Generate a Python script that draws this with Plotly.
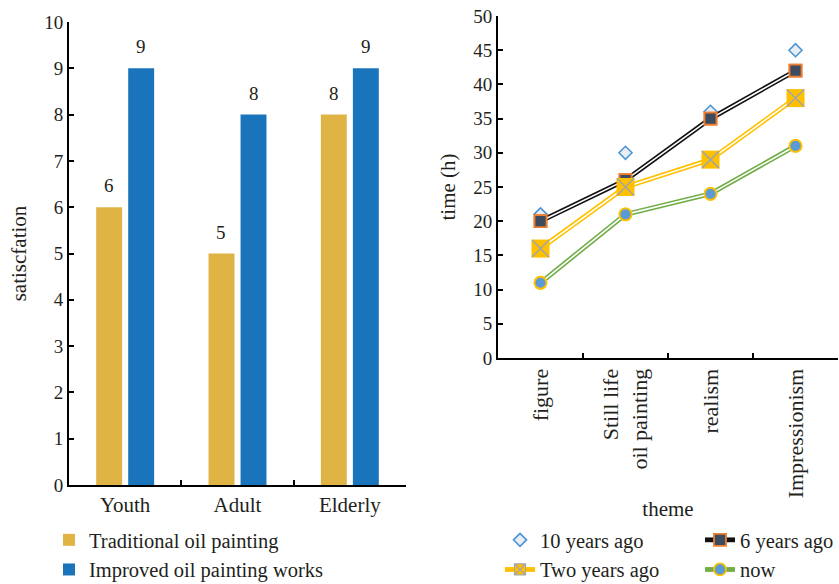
import plotly.graph_objects as go

# ---------------- data ----------------
groups = ["Youth", "Adult", "Elderly"]
traditional = [6, 5, 8]
improved = [9, 8, 9]

themes = ["figure", "Still life<br>oil painting", "realism", "Impressionism"]
ten_years_ago = [21, 30, 36, 45]
six_years_ago = [20, 26, 35, 42]
two_years_ago = [16, 25, 29, 38]
now = [11, 21, 24, 31]

# ---------------- style ----------------
W, H = 839, 584
FONT = "Liberation Serif"
TXT = "#231f20"
YTICK = 19
XTICK = 21
LEG = 20.5
BARGAP = 0.43
BARGROUPGAP = 0.19

fig = go.Figure()

# ---------------- left: bar chart ----------------
bar_series = [
    ("Traditional oil painting", traditional, "#DFB445"),
    ("Improved oil painting works", improved, "#1A74BB"),
]
for name, vals, col in bar_series:
    fig.add_trace(go.Bar(
        x=groups, y=vals, name=name, marker=dict(color=col, line=dict(width=0)),
        xaxis="x", yaxis="y", legend="legend",
    ))

slot = (1 - BARGAP) / len(bar_series)
for j, (name, vals, col) in enumerate(bar_series):
    for i, v in enumerate(vals):
        fig.add_annotation(
            x=i + (j - (len(bar_series) - 1) / 2) * slot, y=v, xref="x", yref="y",
            text=str(v), showarrow=False, yanchor="bottom", yshift=9,
            font=dict(family=FONT, size=19, color=TXT),
        )

# ---------------- right: line chart ----------------
fig.add_trace(go.Scatter(
    x=themes, y=ten_years_ago, name="10 years ago", mode="markers",
    marker=dict(symbol="diamond", size=10, color="#EAEEF2",
                line=dict(color="#4A95D6", width=1.6)),
    xaxis="x2", yaxis="y2", legend="legend2",
))

def double_line(name, vals, color, legend_marker, markers, legend):
    fig.add_trace(go.Scatter(
        x=themes, y=vals, name=name, mode="lines+markers",
        line=dict(color=color, width=4.8), marker=legend_marker,
        xaxis="x2", yaxis="y2", legend=legend,
    ))
    fig.add_trace(go.Scatter(
        x=themes, y=vals, mode="lines", line=dict(color="white", width=1.6),
        showlegend=False, hoverinfo="skip", xaxis="x2", yaxis="y2",
    ))
    for mk in markers:
        fig.add_trace(go.Scatter(
            x=themes, y=vals, mode="markers", marker=mk, name=name,
            showlegend=False, xaxis="x2", yaxis="y2",
        ))

m6 = dict(symbol="square", size=12, color="#3C4B5E",
          line=dict(color="#ED7D31", width=1.8))
double_line("6 years ago", six_years_ago, "#111111", m6, [m6], "legend3")

m2_legend = dict(symbol="square-x", size=11, color="#FFC000",
                 line=dict(color="#A5A5A5", width=1.2))
m2_fill = dict(symbol="square", size=18, color="#FFC000", line=dict(width=0))
m2_x = dict(symbol="x-thin", size=17, color="#A5A5A5",
            line=dict(color="#A5A5A5", width=1.5))
double_line("Two years ago", two_years_ago, "#FFC000", m2_legend,
            [m2_fill, m2_x], "legend2")

mn = dict(symbol="circle", size=12, color="#5B9BD5",
          line=dict(color="#FFC000", width=1.8))
double_line("now", now, "#70AD47", mn, [mn], "legend3")

# ---------------- layout ----------------
axis_common = dict(
    showline=True, linecolor="black", linewidth=2, mirror=False,
    ticks="inside", ticklen=5, tickwidth=1.5, tickcolor="black",
    showgrid=False, zeroline=False, automargin=False,
    tickfont=dict(family=FONT, size=YTICK, color=TXT),
)
leg_common = dict(xanchor="left", yanchor="top", orientation="v",
                  bgcolor="rgba(0,0,0,0)",
                  font=dict(family=FONT, size=LEG, color=TXT))

fig.update_layout(
    width=W, height=H,
    margin=dict(l=0, r=0, t=0, b=0, autoexpand=False),
    paper_bgcolor="white", plot_bgcolor="white",
    font=dict(family=FONT, size=YTICK, color=TXT),
    barmode="group", bargap=BARGAP, bargroupgap=BARGROUPGAP,
    xaxis=dict(axis_common, domain=[69 / W, 406 / W], anchor="y",
               range=[-0.5, 2.5], tickson="boundaries",
               tickfont=dict(family=FONT, size=XTICK, color=TXT)),
    yaxis=dict(axis_common, domain=[1 - 485 / H, 1 - 22 / H], anchor="x",
               range=[0, 10], dtick=1,
               title=dict(text="satiscfation", standoff=12,
                          font=dict(family=FONT, size=21, color=TXT))),
    xaxis2=dict(axis_common, domain=[498 / W, 838 / W], anchor="y2",
                range=[-0.5, 3.5], tickson="boundaries", tickangle=-90,
                tickfont=dict(family=FONT, size=22, color=TXT),
                title=dict(text="theme", standoff=4,
                           font=dict(family=FONT, size=21, color=TXT))),
    yaxis2=dict(axis_common, domain=[1 - 358 / H, 1 - 16 / H], anchor="x2",
                range=[0, 50], dtick=5,
                title=dict(text="time (h)", standoff=12,
                           font=dict(family=FONT, size=21, color=TXT))),
    legend=dict(leg_common, x=49 / W, y=1 - 520 / H),
    legend2=dict(leg_common, x=500 / W, y=1 - 520 / H),
    legend3=dict(leg_common, x=700 / W, y=1 - 520 / H),
)

fig.write_html("out.html")
